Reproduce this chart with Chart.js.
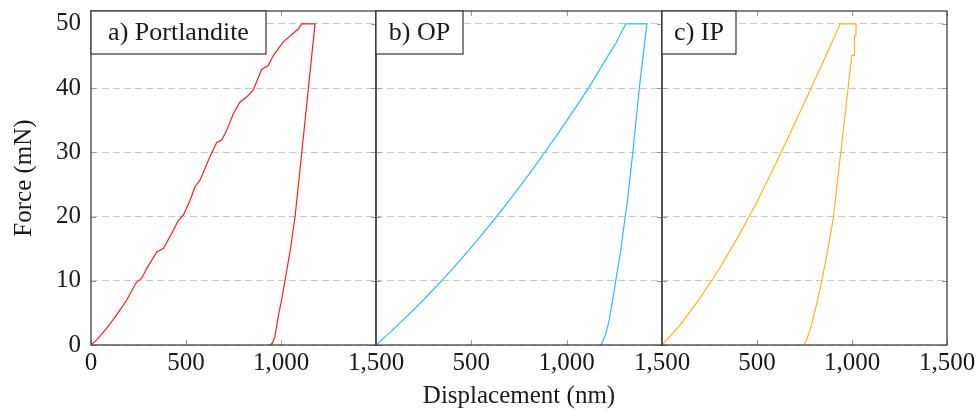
<!DOCTYPE html>
<html>
<head>
<meta charset="utf-8">
<title>Nanoindentation load-displacement curves</title>
<script src="https://cdn.jsdelivr.net/npm/chart.js@4.4.1/dist/chart.umd.min.js"></script>
<style>
  html, body { margin: 0; padding: 0; background: #fff; }
  #wrap { position: relative; width: 979px; height: 411px; }
  #wrap canvas { position: absolute; left: 0; top: 0; }
</style>
</head>
<body>
<div id="wrap">
  <canvas id="panelA" width="979" height="411"></canvas>
  <canvas id="panelB" width="979" height="411"></canvas>
  <canvas id="panelC" width="979" height="411"></canvas>
</div>
<script>
// loading + hold + unloading path for each material (nm, mN)
const portlanditeDisp = [0, 30, 82, 135, 188, 240, 267, 293, 346, 381, 425, 460, 486, 521, 547, 574, 626, 661, 688, 714, 749, 784, 819, 854, 898, 933, 960, 1012, 1091, 1109, 1179, 1120, 1083, 1074, 1050, 1021, 1003, 986, 975, 968, 955, 942];
const portlanditeForce = [0, 0.8, 2.6, 4.7, 7.0, 9.8, 10.4, 11.9, 14.5, 15.0, 17.4, 19.4, 20.2, 22.5, 24.6, 25.7, 29.3, 31.5, 31.9, 33.4, 36.0, 37.8, 38.6, 39.7, 42.9, 43.5, 45.1, 47.2, 49.2, 50, 50, 33.0, 22.5, 20.0, 15.0, 10.0, 7.0, 4.5, 2.6, 1.3, 0.3, 0];

const opDisp = [0, 75, 150, 225, 300, 375, 450, 525, 600, 675, 750, 825, 900, 975, 1050, 1125, 1200, 1260, 1310, 1421, 1381, 1348, 1319, 1307, 1285, 1258, 1240, 1223, 1208, 1196, 1185, 1175];
const opForce = [0, 2.0, 4.1, 6.3, 8.6, 11.0, 13.5, 16.1, 18.8, 21.6, 24.5, 27.5, 30.6, 33.8, 37.1, 40.5, 44.2, 47.1, 50, 50, 40.0, 30.3, 22.5, 20.0, 15.0, 10.1, 6.8, 3.9, 2.0, 1.0, 0.3, 0];

const ipDisp = [0, 50, 100, 200, 300, 400, 500, 600, 700, 800, 870, 938, 1021, 1021, 1013, 1013, 999, 912, 903, 875, 842, 815, 789, 775, 763, 754, 745];
const ipForce = [0, 1.6, 3.3, 7.3, 11.8, 16.8, 22.3, 28.3, 34.6, 41.0, 45.5, 50, 50, 48.2, 48.2, 45.1, 45.1, 22.5, 20.0, 15.2, 10.1, 6.5, 3.4, 2.0, 1.0, 0.4, 0];

const xTicks = [0, 500, 1000, 1500];
const yTicks = [0, 10, 20, 30, 40, 50];
const panelLabels = ['a) Portlandite', 'b) OP', 'c) IP'];

const FONT = '"Liberation Serif", "DejaVu Serif", serif';
const TOP = 11, AXIS_H = 66;
const edges = [91, 376, 662, 947];
const boxWidths = [175, 87, 74];

// inward ticks, frame and the panel label box
const framePlugin = {
  id: 'frame',
  afterDraw(chart, args, opts) {
    const { ctx, chartArea: a, scales } = chart;
    ctx.save();
    ctx.strokeStyle = '#9a9a9a';
    ctx.lineWidth = 1;
    ctx.beginPath();
    scales.x.ticks.forEach(t => {
      const px = Math.round(scales.x.getPixelForValue(t.value)) + 0.5;
      ctx.moveTo(px, a.bottom); ctx.lineTo(px, a.bottom - 5);
      ctx.moveTo(px, a.top); ctx.lineTo(px, a.top + 5);
    });
    scales.y.ticks.forEach(t => {
      const py = Math.round(scales.y.getPixelForValue(t.value)) + 0.5;
      ctx.moveTo(a.left, py); ctx.lineTo(a.left + 5, py);
      ctx.moveTo(a.right, py); ctx.lineTo(a.right - 5, py);
    });
    ctx.stroke();

    ctx.strokeStyle = '#333';
    ctx.lineWidth = 1.2;
    ctx.strokeRect(a.left, a.top, a.right - a.left, a.bottom - a.top);

    ctx.font = '26px ' + FONT;
    const w = opts.boxWidth;
    ctx.fillStyle = '#fff';
    ctx.fillRect(a.left, a.top, w, 43);
    ctx.strokeRect(a.left, a.top, w, 43);
    ctx.fillStyle = '#1a1a1a';
    ctx.textBaseline = 'middle';
    ctx.textAlign = 'center';
    ctx.fillText(opts.label, a.left + w / 2, a.top + 22);
    ctx.restore();
  }
};

function makePanel(id, idx, disp, force, color) {
  const left = edges[idx], right = edges[idx + 1];
  const first = idx === 0;
  return new Chart(document.getElementById(id), {
    type: 'line',
    data: {
      datasets: [{
        data: disp.map((x, i) => ({ x: x, y: force[i] })),
        borderColor: color,
        borderWidth: 1.2,
        pointRadius: 0,
        tension: 0,
        fill: false
      }]
    },
    options: {
      responsive: false,
      animation: false,
      devicePixelRatio: 1,
      layout: { padding: { left: first ? 0 : left, right: 979 - right, top: TOP, bottom: 0 } },
      plugins: {
        legend: { display: false },
        tooltip: { enabled: false },
        frame: { label: panelLabels[idx], boxWidth: boxWidths[idx] }
      },
      scales: {
        x: {
          type: 'linear',
          min: 0, max: 1500,
          afterBuildTicks: s => { s.ticks = xTicks.map(v => ({ value: v })); },
          afterFit: s => {
            s.height = AXIS_H;
            s.paddingLeft = 0;
            s.paddingRight = 0;
          },
          grid: { display: false, drawTicks: false },
          border: { display: false },
          ticks: {
            color: '#1a1a1a',
            font: { family: FONT, size: 25 },
            padding: 3,
            maxRotation: 0,
            autoSkip: false,
            callback: v => (!first && v === 0) ? '' : v.toLocaleString('en-US')
          },
          title: {
            display: idx === 1,
            text: 'Displacement (nm)',
            color: '#1a1a1a',
            font: { family: FONT, size: 25 },
            padding: { top: 0, bottom: 0 }
          }
        },
        y: {
          min: 0, max: 52,
          afterBuildTicks: s => { s.ticks = yTicks.map(v => ({ value: v })); },
          afterFit: s => {
            s.width = first ? left : 0;
            s.paddingTop = 0;
            s.paddingBottom = 0;
          },
          grid: {
            color: '#c8c8c8',
            lineWidth: 1,
            drawTicks: false
          },
          border: { display: false, dash: [7, 4] },
          ticks: {
            display: first,
            color: '#1a1a1a',
            font: { family: FONT, size: 25 },
            padding: 10
          },
          title: {
            display: first,
            text: 'Force (mN)',
            color: '#1a1a1a',
            font: { family: FONT, size: 25 },
            padding: { top: 9, bottom: 0 }
          }
        }
      }
    },
    plugins: [framePlugin]
  });
}

makePanel('panelA', 0, portlanditeDisp, portlanditeForce, '#ff1f1f');
makePanel('panelB', 1, opDisp, opForce, '#33b9f2');
makePanel('panelC', 2, ipDisp, ipForce, '#ffb42a');
</script>
</body>
</html>
